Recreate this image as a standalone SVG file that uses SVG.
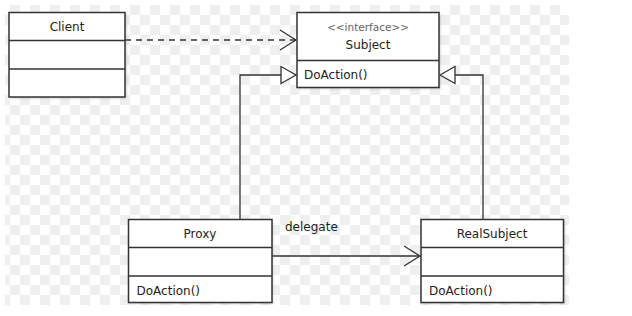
<svg xmlns="http://www.w3.org/2000/svg" width="632" height="316" viewBox="0 0 632 316">
  <defs>
    <pattern id="checker" patternUnits="userSpaceOnUse" x="0" y="5" width="20" height="20">
      <rect width="20" height="20" fill="#ffffff"/>
      <rect x="10" y="0" width="10" height="10" fill="#efefef"/>
      <rect x="0" y="10" width="10" height="10" fill="#efefef"/>
    </pattern>
    <filter id="shadow" x="-10%" y="-10%" width="120%" height="120%">
      <feGaussianBlur stdDeviation="1.2"/>
    </filter>
    <marker id="open" markerWidth="20" markerHeight="24" refX="17" refY="11" orient="auto" markerUnits="userSpaceOnUse">
      <path d="M1,1 L17,11 L1,21" fill="none" stroke="#333" stroke-width="1.3"/>
    </marker>
    <marker id="tri" markerWidth="20" markerHeight="22" refX="16" refY="10" orient="auto" markerUnits="userSpaceOnUse">
      <path d="M1,1.5 L16,10 L1,18.5 Z" fill="#fff" stroke="#333" stroke-width="1.3"/>
    </marker>
  </defs>
  <style>
    .box { fill: #ffffff; stroke: #333333; stroke-width: 1.5; }
    .shd { fill: #9a9a9a; opacity: 0.45; filter: url(#shadow); }
    .div { stroke: #333333; stroke-width: 1.5; }
    .name { font-family: "DejaVu Sans", sans-serif; font-size: 12px; fill: #222; text-anchor: middle; }
    .stereo { font-family: "DejaVu Sans", sans-serif; font-size: 10.5px; fill: #666; text-anchor: middle; }
    .op { font-family: "DejaVu Sans", sans-serif; font-size: 12px; fill: #222; }
    .edge { fill: none; stroke: #333333; stroke-width: 1.3; }
  </style>

  <rect width="632" height="316" fill="#ffffff"/>
  <rect x="5" y="5" width="564" height="300" fill="url(#checker)"/>

  <g id="connectors">
    <path class="edge" d="M125,40 L296,40" stroke-dasharray="6,5" marker-end="url(#open)"/>
    <path class="edge" d="M240,219 L240,75 L296,75" marker-end="url(#tri)"/>
    <path class="edge" d="M483,219 L483,75 L440,75" marker-end="url(#tri)"/>
    <path class="edge" d="M272,256 L420,256" marker-end="url(#open)"/>
    <text class="op" x="285" y="231">delegate</text>
  </g>

  <g id="client">
    <rect class="shd" x="10.5" y="14" width="116" height="84.5"/>
    <rect class="box" x="9" y="12.5" width="116" height="84.5"/>
    <line class="div" x1="9" y1="40.5" x2="125" y2="40.5"/>
    <line class="div" x1="9" y1="69" x2="125" y2="69"/>
    <text class="name" x="67" y="31">Client</text>
  </g>

  <g id="subject">
    <rect class="shd" x="298.5" y="14" width="142" height="75"/>
    <rect class="box" x="297" y="12.5" width="142" height="75"/>
    <line class="div" x1="297" y1="60.5" x2="439" y2="60.5"/>
    <text class="stereo" x="368" y="30.5">&lt;&lt;interface&gt;&gt;</text>
    <text class="name" x="368" y="48.5">Subject</text>
    <text class="op" x="304" y="79">DoAction()</text>
  </g>

  <g id="proxy">
    <rect class="shd" x="129.5" y="221" width="143.5" height="83"/>
    <rect class="box" x="128.5" y="219.5" width="143.5" height="83"/>
    <line class="div" x1="128.5" y1="247.5" x2="272" y2="247.5"/>
    <line class="div" x1="128.5" y1="276" x2="272" y2="276"/>
    <text class="name" x="200" y="237.5">Proxy</text>
    <text class="op" x="136.5" y="294.5">DoAction()</text>
  </g>

  <g id="realsubject">
    <rect class="shd" x="422.5" y="221" width="142.5" height="83"/>
    <rect class="box" x="421" y="219.5" width="142.5" height="83"/>
    <line class="div" x1="421" y1="247.5" x2="563.5" y2="247.5"/>
    <line class="div" x1="421" y1="276" x2="563.5" y2="276"/>
    <text class="name" x="492" y="237.5">RealSubject</text>
    <text class="op" x="429" y="294.5">DoAction()</text>
  </g>
</svg>
